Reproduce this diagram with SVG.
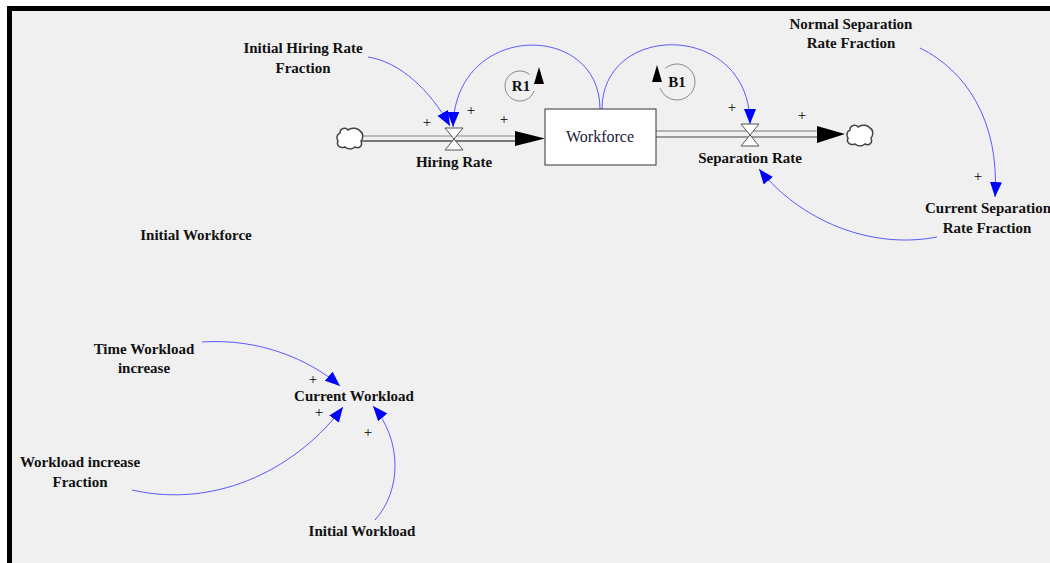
<svg xmlns="http://www.w3.org/2000/svg" width="1050" height="563" viewBox="0 0 1050 563">
<defs>
<style>
.lbl{font-family:"Liberation Serif","Times New Roman",serif;font-weight:bold;font-size:15px;fill:#111;text-anchor:middle}
.stock{font-family:"Liberation Serif","Times New Roman",serif;font-size:16px;fill:#1a1a3a;text-anchor:middle}
.pl{font-family:"Liberation Serif","Times New Roman",serif;font-size:15px;fill:#000;text-anchor:middle}
.lnk{fill:none;stroke:#5a5aff;stroke-width:1}
.cloud{fill:#fff;stroke:#444;stroke-width:1.5}
.valve{fill:#fff;stroke:#555;stroke-width:1}
.loop{fill:none;stroke:#888;stroke-width:1}
</style>
<marker id="ah" viewBox="0 0 15 12" refX="15" refY="6" markerWidth="15" markerHeight="12" markerUnits="userSpaceOnUse" orient="auto">
<path d="M0,0 L15,6 L0,12 Z" fill="#0000ff"/>
</marker>
<path id="cl" d="M4,6 C4,1 10,0 12,3 C15,0 22,1 24,4 C28,6 27,12 25,14 C27,19 23,22 19,20 C16,23 11,22 9,20 C4,22 0,18 2,14 C0,11 1,7 4,6 Z"/>
</defs>
<rect x="0" y="0" width="1050" height="563" fill="#fff"/>
<rect x="9.5" y="8.5" width="1100" height="600" fill="#f0f0f0" stroke="#000" stroke-width="5"/>

<g id="connectors">
<line x1="362" y1="136" x2="530" y2="136" stroke="#888" stroke-width="1"/>
<line x1="362" y1="141" x2="530" y2="141" stroke="#000" stroke-width="1"/>
<polygon points="515,131 545,138.5 515,146" fill="#000"/>
<line x1="656" y1="131" x2="830" y2="131" stroke="#777" stroke-width="1"/>
<line x1="656" y1="137" x2="830" y2="137" stroke="#444" stroke-width="1"/>
<polygon points="817,126 845,134 817,143" fill="#000"/>
<path class="lnk" d="M368,57 C400,62 430,90 450,126" marker-end="url(#ah)"/>
<path class="lnk" d="M600,109 C600,21 455,21 453,127" marker-end="url(#ah)"/>
<path class="lnk" d="M602,109 C602,21 750,21 750,124" marker-end="url(#ah)"/>
<path class="lnk" d="M920,48 C965,70 1000,120 995,197" marker-end="url(#ah)"/>
<path class="lnk" d="M937,237 C870,250 800,220 759,169" marker-end="url(#ah)"/>
<path class="lnk" d="M202,342 C260,338 310,360 340,386" marker-end="url(#ah)"/>
<path class="lnk" d="M132,490 C220,510 300,465 343,407" marker-end="url(#ah)"/>
<path class="lnk" d="M375,520 C402,490 402,440 373,406" marker-end="url(#ah)"/>
<text class="pl" x="427" y="127">+</text>
<text class="pl" x="471" y="115">+</text>
<text class="pl" x="504" y="124">+</text>
<text class="pl" x="732" y="112">+</text>
<text class="pl" x="802" y="120">+</text>
<text class="pl" x="978" y="181">+</text>
<text class="pl" x="313" y="384" font-size="14">+</text>
<text class="pl" x="319" y="417">+</text>
<text class="pl" x="368" y="437">+</text>
</g>

<g id="cloud-source"><use href="#cl" x="336" y="127" class="cloud"/></g>
<g id="cloud-sink"><use href="#cl" x="846" y="124" class="cloud"/></g>

<g id="workforce">
<rect x="545" y="109" width="111" height="56" fill="#fff" stroke="#333" stroke-width="1"/>
<text class="stock" x="600" y="142">Workforce</text>
</g>

<g id="hiring-rate">
<polygon class="valve" points="445,128 463,128 454,139"/>
<polygon class="valve" points="445,150 463,150 454,139"/>
<text class="lbl" x="454" y="167">Hiring Rate</text>
</g>

<g id="separation-rate">
<polygon class="valve" points="741,124 759,124 750,135"/>
<polygon class="valve" points="741,146 759,146 750,135"/>
<text class="lbl" x="750" y="163">Separation Rate</text>
</g>

<g id="initial-hiring-rate-fraction">
<text class="lbl" x="303" y="53">Initial Hiring Rate</text>
<text class="lbl" x="303" y="73">Fraction</text>
</g>

<g id="normal-separation-rate-fraction">
<text class="lbl" x="851" y="29">Normal Separation</text>
<text class="lbl" x="851" y="48">Rate Fraction</text>
</g>

<g id="current-separation-rate-fraction">
<text class="lbl" x="988" y="213">Current Separation</text>
<text class="lbl" x="987" y="233">Rate Fraction</text>
</g>

<g id="initial-workforce">
<text class="lbl" x="196" y="240">Initial Workforce</text>
</g>

<g id="time-workload-increase">
<text class="lbl" x="144" y="354">Time Workload</text>
<text class="lbl" x="144" y="373">increase</text>
</g>

<g id="current-workload">
<text class="lbl" x="354" y="401">Current Workload</text>
</g>

<g id="workload-increase-fraction">
<text class="lbl" x="80" y="467">Workload increase</text>
<text class="lbl" x="80" y="487">Fraction</text>
</g>

<g id="initial-workload">
<text class="lbl" x="362" y="536">Initial Workload</text>
</g>

<g id="loop-r1">
<path class="loop" d="M534.1,91.1 A15,15 0 1 1 529.6,74.5"/>
<polygon points="539,67 534,84 544,84" fill="#000"/>
<text class="lbl" x="521" y="91">R1</text>
</g>

<g id="loop-b1">
<path class="loop" d="M660.1,88.2 A18,18 0 1 0 665.4,68.2"/>
<polygon points="657,65 652,82 662,82" fill="#000"/>
<text class="lbl" x="677" y="87">B1</text>
</g>
</svg>
